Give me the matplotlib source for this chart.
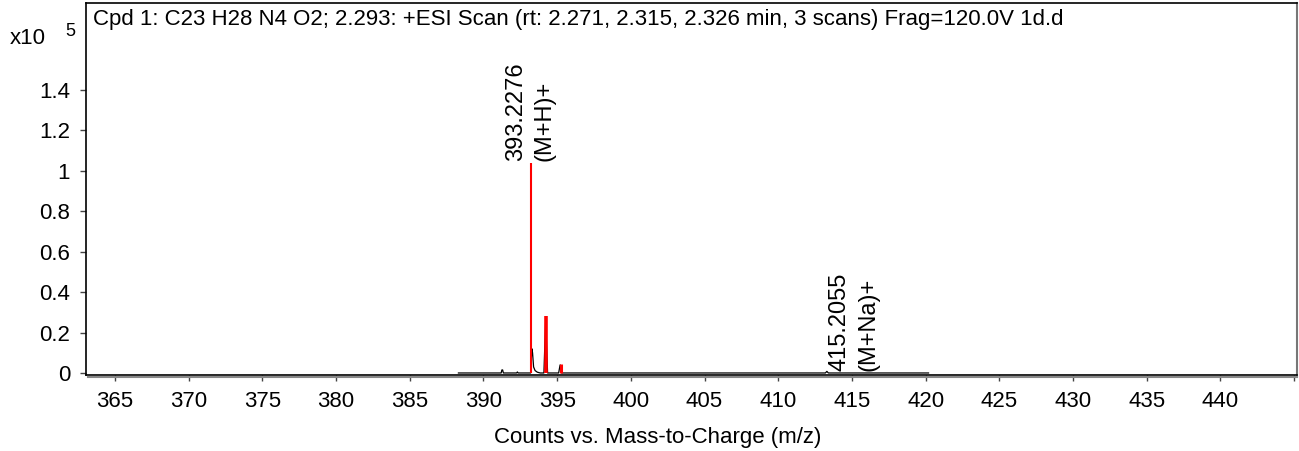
import numpy as np
import matplotlib
matplotlib.use("Agg")
import matplotlib.pyplot as plt
from matplotlib.lines import Line2D

plt.rcParams['font.family'] = ['Liberation Sans', 'DejaVu Sans']

# profile trace (black), x10^5 counts
profile_mz = [388.3, 391.2, 391.25, 391.3, 391.35, 392.25, 392.3, 392.35,
              393.2, 393.28, 393.33, 393.4, 393.5, 393.65, 393.85, 394.1,
              394.22, 394.35, 394.6, 395.1, 395.2, 395.3, 395.5,
              413.2, 413.3, 413.4, 420.2]
profile_int = [0.0, 0.0, 0.015, 0.015, 0.0, 0.0, 0.005, 0.0,
               0.0, 0.12, 0.10, 0.03, 0.012, 0.004, 0.0, 0.0,
               0.26, 0.0, 0.0, 0.0, 0.04, 0.0, 0.0,
               0.0, 0.008, 0.0, 0.0]

# centroid sticks (red)
stick_mz = [393.2276, 394.23, 395.23]
stick_int = [1.04, 0.28, 0.045]

# peak labels
label_mz = [393.2276, 415.2055]
label_int = [1.04, 0.005]
label_mass = ["393.2276", "415.2055"]
label_ion = ["(M+H)+", "(M+Na)+"]

title = ("Cpd 1: C23 H28 N4 O2; 2.293: +ESI Scan (rt: 2.271, 2.315, 2.326 min, "
         "3 scans) Frag=120.0V 1d.d")
x_ticks = np.arange(365, 445, 5)
y_ticks = [0, 0.2, 0.4, 0.6, 0.8, 1, 1.2, 1.4]
y_tick_labels = ["0", "0.2", "0.4", "0.6", "0.8", "1", "1.2", "1.4"]

fig = plt.figure(figsize=(12.99, 4.51), dpi=100)
ax = fig.add_axes([86 / 1299, 1 - 375 / 451, (1297 - 86) / 1299, 372 / 451])

ax.plot(profile_mz, profile_int, color="black", lw=0.9)
ax.vlines(stick_mz, 0, stick_int, colors="red", linewidths=[1.5, 2.6, 2.2])

fs = 16
for mz, h, m, ion in zip(label_mz, label_int, label_mass, label_ion):
    ax.annotate(m, (mz, h), xytext=(-3, 1), textcoords="offset points",
                rotation=90, ha="right", va="bottom", fontsize=17)
    ax.annotate(ion, (mz, h), xytext=(1.5, 1), textcoords="offset points",
                rotation=90, ha="left", va="bottom", fontsize=17)

ax.set_xlim(363.03, 445.2)
ax.set_ylim(-0.01, 1.83)
ax.set_xticks(x_ticks)
ax.set_xticks([445], minor=True)
ax.set_yticks(y_ticks)
ax.set_yticklabels(y_tick_labels)
ax.tick_params(axis="both", direction="out", length=4.5, width=1,
               color="#444444", labelsize=fs, pad=7)
ax.tick_params(axis="x", which="minor", direction="out", length=4.5,
               width=1, color="#444444")

for side in ["left", "top", "bottom"]:
    ax.spines[side].set_color("black")
    ax.spines[side].set_linewidth(1.2)
ax.spines["right"].set_color("#777777")
ax.spines["right"].set_linewidth(1.5)

# grey shadow below the x axis
fig.add_artist(Line2D([88 / 1299, 1297 / 1299], [1 - 377 / 451, 1 - 377 / 451],
                      color="#888888", lw=1.5))

ax.text(0.006, 0.985, title, transform=ax.transAxes, ha="left", va="top",
        fontsize=fs)
fig.text(10 / 1299, 1 - 38 / 451, "x10", ha="left", va="center", fontsize=fs)
fig.text(65 / 1299, 1 - 31 / 451, "5", ha="left", va="center", fontsize=fs - 3)

fig.text(658 / 1299, 1 - 437 / 451, "Counts vs. Mass-to-Charge (m/z)",
         ha="center", va="center", fontsize=fs)

fig.savefig("out.png", dpi=100)
